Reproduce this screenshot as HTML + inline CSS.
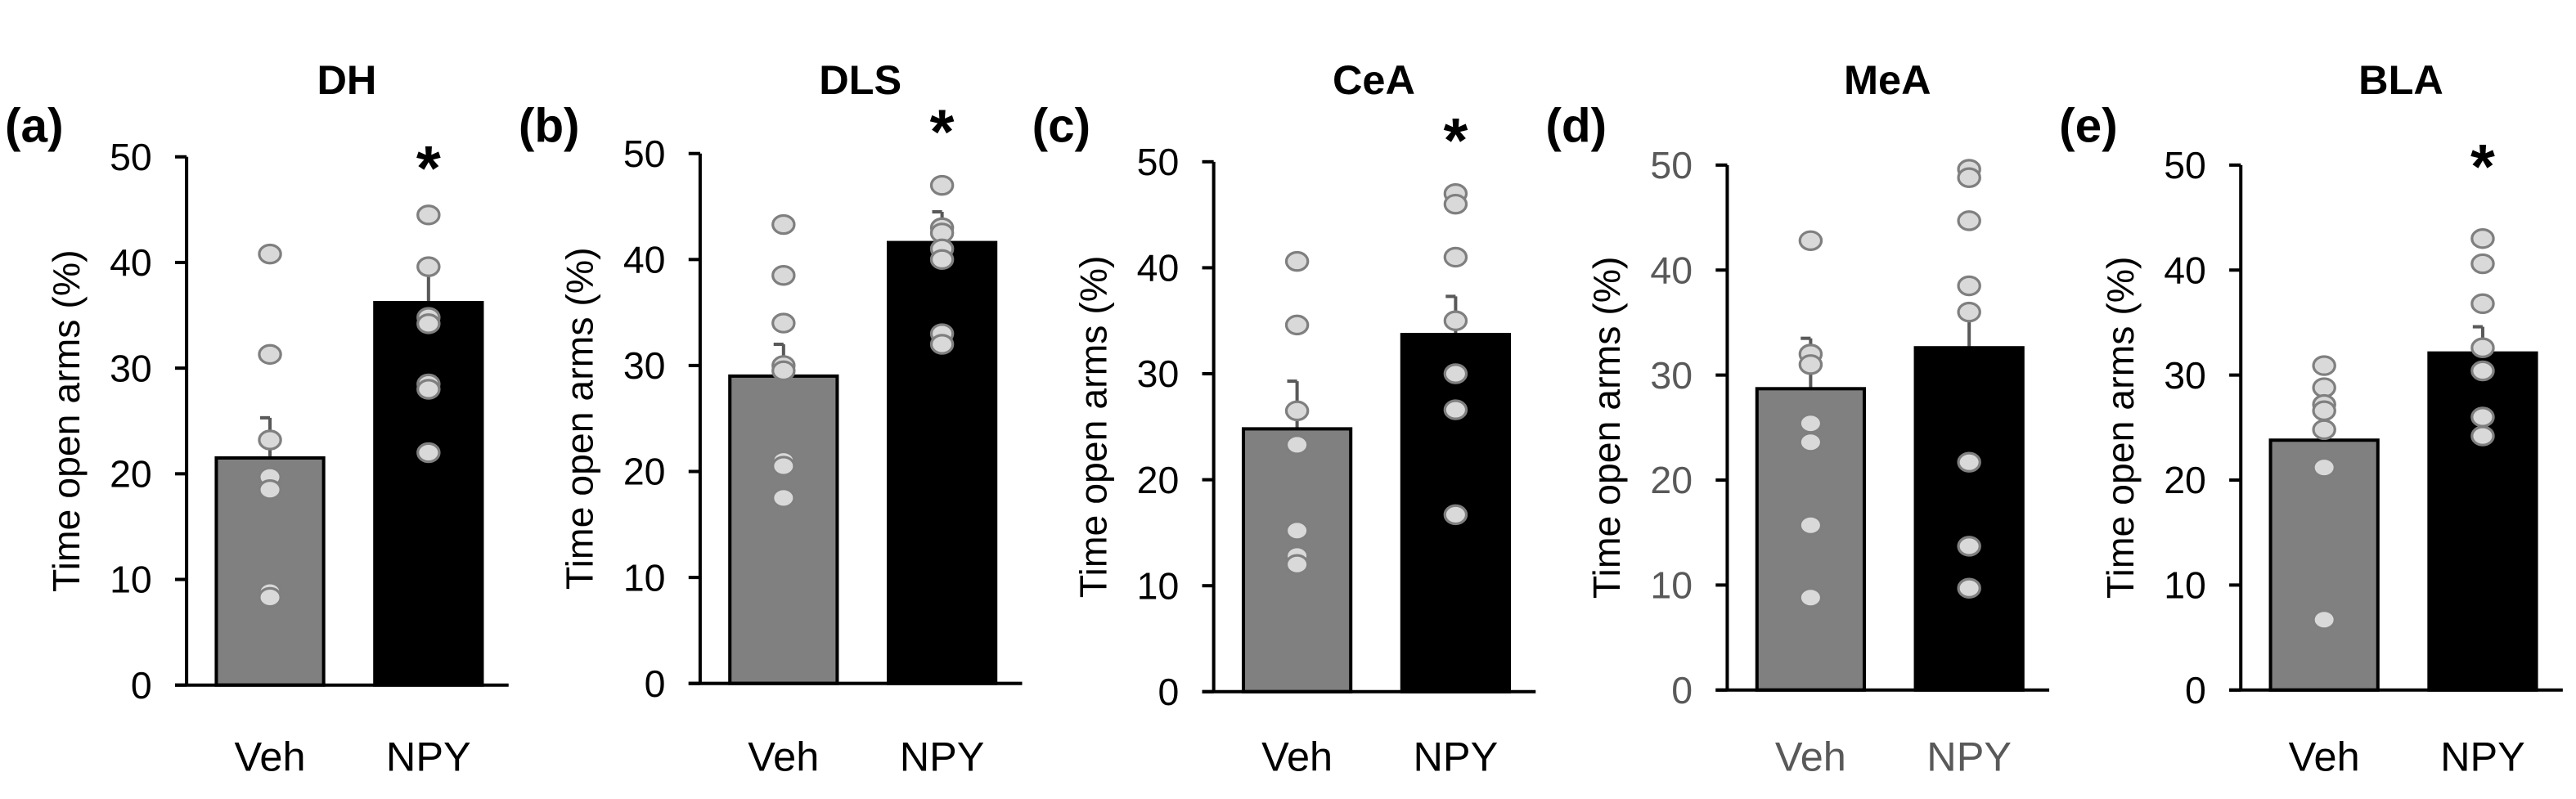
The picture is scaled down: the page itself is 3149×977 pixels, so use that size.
<!DOCTYPE html>
<html><head><meta charset="utf-8"><style>
html,body{margin:0;padding:0;background:#fff;}
svg{display:block;font-family:"Liberation Sans",sans-serif;}
</style></head><body>
<svg id="fig" width="3149" height="977" viewBox="0 0 1560 484" preserveAspectRatio="none" xmlns="http://www.w3.org/2000/svg"></svg>
<script>
const panelTitles = ["DH","DLS","CeA","MeA","BLA"];
const panelLetters = ["(a)","(b)","(c)","(d)","(e)"];
const categories = ["Veh","NPY"];
const yTicks = [0,10,20,30,40,50];
const vehMeans = [21.5,29,24.8,28.7,23.8];
const vehErr = [25.3,32,29.3,33.5,26.4];
const npyMeans = [36.2,41.6,33.7,32.6,32.1];
const npyErr = [39.8,44.5,37.3,35.7,34.6];
const vehPoints = [
 [40.8,31.3,23.2,19.7,18.5,8.8,8.3],
 [43.3,38.5,34,30,29.5,21,20.5,17.5],
 [40.6,34.6,26.5,23.3,15.2,12.8,12],
 [42.8,32,31,25.4,23.6,15.7,8.8],
 [30.9,28.8,27.2,26.6,24.8,21.2,6.7]];
const npyPoints = [
 [44.5,39.6,34.8,34.2,28.5,28,22],
 [47,43,42.5,41,40,33,32],
 [47,46,41,35,30,26.6,16.7],
 [49.6,48.8,44.7,38.5,36,21.7,13.7,9.7],
 [43,40.6,36.8,32.6,30.4,26,24.2]];
const significant = [true,true,true,false,true];
const yMax = 50;

const axX = [113,424,735,1046,1357];
const axTop = [95,93,98,100,100];
const axBot = [415,414,419,418,418];
const NS="http://www.w3.org/2000/svg";
const svg=document.getElementById('fig');
function mk(tag,attrs,parent){const e=document.createElementNS(NS,tag);for(const k in attrs)e.setAttribute(k,attrs[k]);(parent||svg).appendChild(e);return e;}

for(let p=0;p<5;p++){
  const g=mk('g',{});
  
  
  const x0=axX[p], top=axTop[p], bot=axBot[p];
  const yS=v=>bot-(v/yMax)*(bot-top);
  const txtCol = p===3 ? '#595959' : '#000';
  const t=mk('text',{x:x0+97,y:57,'text-anchor':'middle','font-size':25,'font-weight':'bold'},g);t.textContent=panelTitles[p];
  
  
  const l=mk('text',{x:x0-110,y:86,'font-size':29,'font-weight':'bold'},g);l.textContent=panelLetters[p];
  
  
  const yt=mk('text',{x:0,y:0,'text-anchor':'middle','font-size':23,transform:`translate(${x0-65},${(top+bot)/2}) rotate(-90)`},g);yt.textContent='Time open arms (%)';
  
  
  const barsX=[x0+18,x0+114], bw=65;
  const means=[vehMeans[p],npyMeans[p]], errs=[vehErr[p],npyErr[p]], pts=[vehPoints[p],npyPoints[p]];
  for(let c=0;c<2;c++){
    const cx=barsX[c]+bw/2;
    const eb=mk('line',{x1:cx,x2:cx,y1:yS(means[c]),y2:yS(errs[c]),stroke:'#595959','stroke-width':2},g);
    
    
    const cap=mk('line',{x1:cx-6,x2:cx,y1:yS(errs[c]),y2:yS(errs[c]),stroke:'#595959','stroke-width':2},g);
    
    
    const r=mk('rect',{x:barsX[c],y:yS(means[c]),width:bw,height:bot-yS(means[c]),fill:c===0?'#808080':'#000',stroke:'#000','stroke-width':2},g);
    
    
    pts[c].forEach(v=>{
      const d=mk('ellipse',{cx:cx,cy:yS(v),rx:6.5,ry:5.5,fill:'#d9d9d9',stroke:'#7f7f7f','stroke-width':1.6},g);
      
      
    });
    const cl=mk('text',{x:cx,y:467,'text-anchor':'middle','font-size':25,fill:txtCol},g);cl.textContent=categories[c];
    
    
  }
  if(significant[p]){
    const s=mk('text',{x:barsX[1]+bw/2,y:top+ (p===0?20:p===4?14:0) ,'text-anchor':'middle','font-size':38,'font-weight':'bold'},g);s.textContent='*';
    
    
  }
  const ya=mk('line',{x1:x0,x2:x0,y1:top,y2:bot,stroke:'#000','stroke-width':2},g);
  
  
  const xa=mk('line',{x1:x0-7,x2:x0+195,y1:bot,y2:bot,stroke:'#000','stroke-width':2},g);
  
  
  yTicks.forEach(v=>{
    const tk=mk('line',{x1:x0-7,x2:x0,y1:yS(v),y2:yS(v),stroke:'#000','stroke-width':2},g);
    
    
    const tl=mk('text',{x:x0-21,y:yS(v)+8,'text-anchor':'end','font-size':23,fill:txtCol},g);tl.textContent=v;
    
    
  });
}
</script>
</body></html>
